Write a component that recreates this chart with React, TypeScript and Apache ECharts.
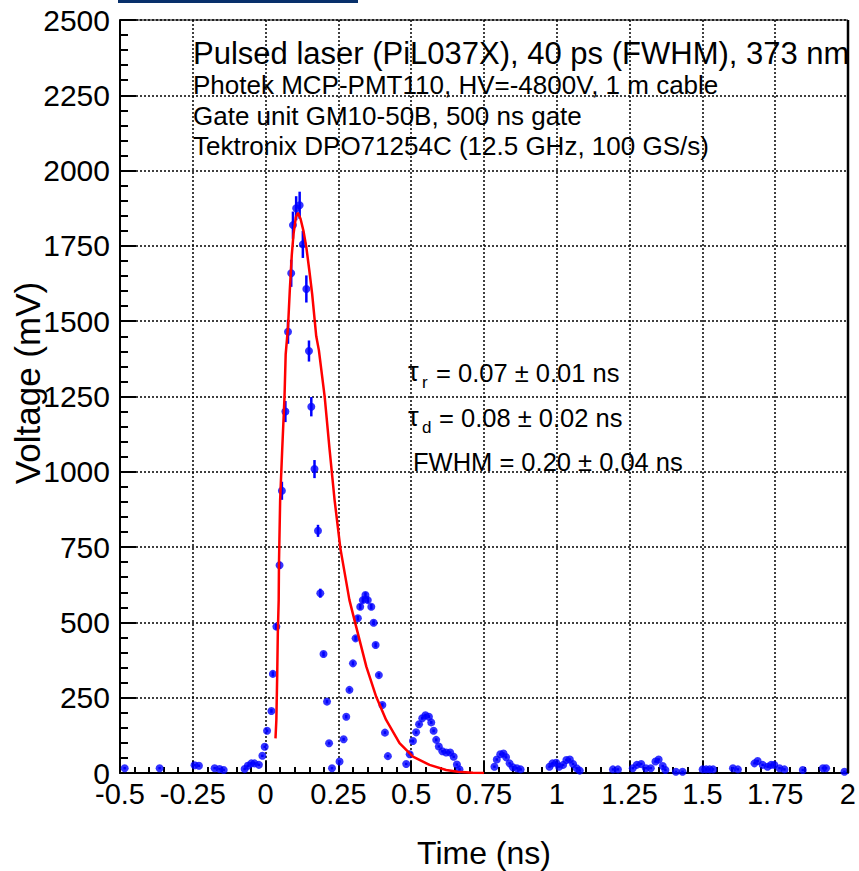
import React, { useEffect, useRef } from "react";
import * as echarts from "echarts";

// Measured samples (time in ns, voltage in mV)
const timeNs: number[] = [
  -0.484, -0.364, -0.244, -0.229, -0.175, -0.158, -0.144, -0.072, -0.061, -0.049,
  -0.038, -0.023, -0.011, -0.003, 0.005, 0.02, 0.025, 0.037, 0.048, 0.056,
  0.068, 0.077, 0.088, 0.094, 0.105, 0.117, 0.128, 0.14, 0.149, 0.157,
  0.168, 0.18, 0.188, 0.199, 0.211, 0.218, 0.228, 0.254, 0.268, 0.277,
  0.288, 0.3, 0.309, 0.317, 0.325, 0.334, 0.343, 0.351, 0.363, 0.371,
  0.378, 0.389, 0.401, 0.41, 0.42, 0.483, 0.495, 0.506, 0.517, 0.527,
  0.538, 0.549, 0.561, 0.569, 0.577, 0.586, 0.595, 0.607, 0.62, 0.634,
  0.646, 0.657, 0.666, 0.786, 0.794, 0.806, 0.817, 0.826, 0.838, 0.849,
  0.863, 0.876, 0.975, 0.985, 0.998, 1.008, 1.022, 1.033, 1.045, 1.056,
  1.068, 1.079, 1.193, 1.21, 1.261, 1.275, 1.29, 1.306, 1.323, 1.339,
  1.35, 1.364, 1.373, 1.409, 1.432, 1.501, 1.513, 1.525, 1.537, 1.605,
  1.622, 1.679, 1.69, 1.707, 1.724, 1.736, 1.747, 1.765, 1.782, 1.845,
  1.914, 1.925, 1.988,
];
const voltageMv: number[] = [
  16, 16, 26, 24, 16, 13, 10, 13, 24, 32,
  32, 27, 57, 87, 140, 206, 329, 486, 690, 937,
  1200, 1465, 1659, 1819, 1875, 1885, 1755, 1607, 1401, 1216,
  1009, 804, 597, 395, 237, 99, 16, 38, 112, 187,
  276, 364, 447, 514, 552, 574, 591, 574, 552, 499,
  425, 325, 226, 134, 56, 30, 62, 106, 135, 162,
  182, 192, 187, 168, 140, 110, 88, 72, 68, 68,
  54, 28, 12, 21, 45, 62, 65, 52, 32, 19,
  16, 12, 21, 32, 34, 21, 27, 43, 45, 30,
  16, 8, 12, 12, 16, 27, 30, 16, 16, 38,
  45, 23, 10, 4, 4, 12, 12, 12, 12, 16,
  12, 32, 40, 27, 21, 27, 27, 16, 12, 10,
  16, 16, 4,
];
const errorMv: number[] = [
  4, 4, 4, 4, 4, 4, 4, 4, 4, 4,
  4, 4, 4, 4, 5, 6, 8, 10, 12, 30,
  35, 40, 45, 45, 40, 45, 45, 45, 35, 32,
  30, 20, 15, 8, 6, 5, 4, 4, 5, 6,
  6, 7, 8, 8, 9, 9, 9, 9, 9, 8,
  8, 7, 6, 5, 4, 4, 4, 5, 5, 5,
  5, 5, 5, 5, 5, 5, 4, 4, 4, 4,
  4, 4, 4, 4, 4, 4, 4, 4, 4, 4,
  4, 4, 4, 4, 4, 4, 4, 4, 4, 4,
  4, 4, 4, 4, 4, 4, 4, 4, 4, 4,
  4, 4, 4, 4, 4, 4, 4, 4, 4, 4,
  4, 4, 4, 4, 4, 4, 4, 4, 4, 4,
  4, 4, 4,
];

// Fit curve
const fitTime: number[] = [
  0.034, 0.037, 0.04, 0.042, 0.045, 0.046, 0.05, 0.057, 0.065, 0.069,
  0.077, 0.083, 0.09, 0.096, 0.104, 0.111, 0.12, 0.13, 0.14, 0.15,
  0.16, 0.174, 0.183, 0.203, 0.22, 0.237, 0.257, 0.288, 0.311, 0.346,
  0.38, 0.414, 0.46, 0.506, 0.563, 0.62, 0.66, 0.712, 0.75,
];
const fitVoltage: number[] = [
  115, 176, 330, 464, 574, 697, 906, 1072, 1249, 1390,
  1480, 1600, 1720, 1790, 1845, 1860, 1840, 1800, 1745, 1670,
  1590, 1450, 1404, 1249, 1072, 906, 745, 574, 486, 353,
  253, 176, 99, 54, 27, 10, 4, 1, 0,
];

const xTicks = { min: -0.5, max: 2, interval: 0.25 };
const yTicks = { min: 0, max: 2500, interval: 250 };

const headerLines: string[] = [
  "Pulsed laser (PiL037X), 40 ps (FWHM), 373 nm",
  "Photek MCP-PMT110, HV=-4800V, 1 m cable",
  "Gate unit GM10-50B, 500 ns gate",
  "Tektronix DPO71254C (12.5 GHz, 100 GS/s)",
];

const FONT = "'Liberation Sans', Arial, sans-serif";

export default function App() {
  const ref = useRef<HTMLDivElement>(null);

  useEffect(() => {
    document.body.style.margin = "0";
    if (!ref.current) return;
    const chart = echarts.init(ref.current, undefined, { renderer: "svg" });

    const points = timeNs.map((t, i) => [t, voltageMv[i]]);
    const errs = timeNs.map((t, i) => [t, voltageMv[i], errorMv[i]]);
    const fit = fitTime.map((t, i) => [t, fitVoltage[i]]);

    const headerText = (s: string, y: number, size: number) => ({
      type: "text",
      x: 193,
      y,
      style: {
        text: s,
        fontSize: size,
        fontFamily: FONT,
        fill: "#000",
        verticalAlign: "middle",
        align: "left",
      },
      z: 100,
    });

    const txt = (s: string, x: number, y: number, size: number) => ({
      type: "text",
      x,
      y,
      style: {
        text: s,
        fontSize: size,
        fontFamily: FONT,
        fill: "#000",
        verticalAlign: "middle",
        align: "left",
      },
      z: 100,
    });

    chart.setOption({
      animation: false,
      backgroundColor: "#fff",
      grid: {
        left: 120,
        right: 11,
        top: 20,
        bottom: 98,
        show: true,
        borderColor: "#000",
        borderWidth: 1,
      },
      xAxis: {
        type: "value",
        min: xTicks.min,
        max: xTicks.max,
        interval: xTicks.interval,
        axisLine: { show: true, onZero: false, lineStyle: { color: "#000", width: 2 } },
        axisTick: { show: true, inside: true, length: 12, lineStyle: { color: "#000", width: 2 } },
        minorTick: { show: true, splitNumber: 5, length: 6, lineStyle: { color: "#000", width: 2 } },
        axisLabel: {
          color: "#000",
          fontSize: 29,
          fontFamily: FONT,
          margin: 6,
          formatter: (v: number) => String(Math.round(v * 100) / 100),
        },
        splitLine: { show: true, lineStyle: { color: "#000", type: [2, 2], width: 1.5 } },
      },
      yAxis: {
        type: "value",
        min: yTicks.min,
        max: yTicks.max,
        interval: yTicks.interval,
        axisLine: { show: true, onZero: false, lineStyle: { color: "#000", width: 2 } },
        axisTick: { show: true, inside: true, length: 16, lineStyle: { color: "#000", width: 2 } },
        minorTick: { show: true, splitNumber: 5, length: 8, lineStyle: { color: "#000", width: 2 } },
        axisLabel: {
          color: "#000",
          fontSize: 30,
          fontFamily: FONT,
          margin: 10,
          formatter: (v: number) => String(v),
        },
        splitLine: { show: true, lineStyle: { color: "#000", type: [2, 2], width: 1.5 } },
      },
      series: [
        {
          type: "custom",
          name: "errors",
          clip: true,
          renderItem: (params: any, api: any) => {
            const x = api.value(0);
            const y = api.value(1);
            const e = api.value(2);
            const p1 = api.coord([x, y - e]);
            const p2 = api.coord([x, y + e]);
            return {
              type: "line",
              shape: { x1: p1[0], y1: p1[1], x2: p2[0], y2: p2[1] },
              style: { stroke: "#0000ff", lineWidth: 2.5 },
            };
          },
          data: errs,
          z: 3,
        },
        {
          type: "scatter",
          name: "data",
          data: points,
          symbol: "circle",
          symbolSize: 8,
          itemStyle: { color: "#0000ff" },
          z: 4,
        },
        {
          type: "line",
          name: "fit",
          data: fit,
          showSymbol: false,
          symbol: "none",
          lineStyle: { color: "#ff0000", width: 2.5 },
          z: 5,
        },
      ],
      graphic: [
        {
          type: "rect",
          shape: { x: 118, y: 0, width: 240, height: 3 },
          style: { fill: "#08306b" },
        },
        {
          type: "line",
          shape: { x1: 848, y1: 20, x2: 848, y2: 773 },
          style: { stroke: "#000", lineWidth: 2.5 },
          z: 50,
        },
        headerText(headerLines[0], 53, 31),
        headerText(headerLines[1], 85, 26),
        headerText(headerLines[2], 116, 26),
        headerText(headerLines[3], 146, 26),
        txt("τ", 408, 372, 27),
        txt("r", 422, 382, 17),
        txt("= 0.07 ± 0.01 ns", 436, 373, 25.5),
        txt("τ", 408, 417, 27),
        txt("d", 422, 427, 17),
        txt("= 0.08 ± 0.02 ns", 439, 418, 25.5),
        txt("FWHM = 0.20 ± 0.04 ns", 413, 462, 25.5),
        {
          type: "text",
          x: 484,
          y: 853,
          style: {
            text: "Time (ns)",
            fontSize: 32,
            fontFamily: FONT,
            fill: "#000",
            align: "center",
            verticalAlign: "middle",
          },
        },
        {
          type: "text",
          x: 27,
          y: 383,
          rotation: Math.PI / 2,
          style: {
            text: "Voltage (mV)",
            fontSize: 35,
            fontFamily: FONT,
            fill: "#000",
            align: "center",
            verticalAlign: "middle",
          },
        },
      ],
    });

    return () => chart.dispose();
  }, []);

  return <div ref={ref} style={{ width: 859, height: 871 }} />;
}
